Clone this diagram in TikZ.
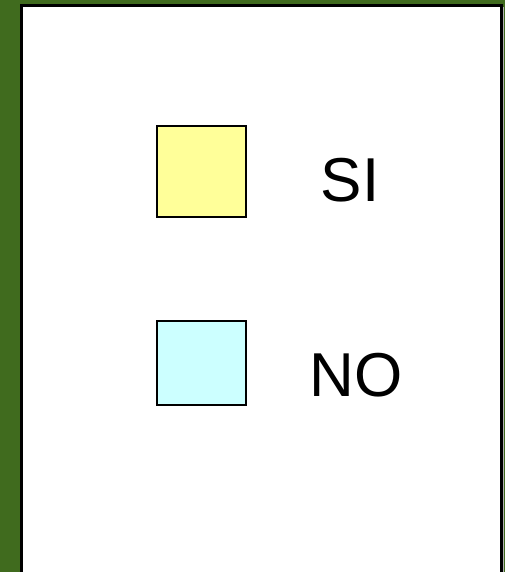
\documentclass[tikz,border=0pt]{standalone}
\usepackage{fontspec}
\setmainfont{Liberation Sans}
\definecolor{bggreen}{RGB}{64,107,30}
\definecolor{siyellow}{RGB}{255,255,153}
\definecolor{nocyan}{RGB}{204,255,255}
\begin{document}
\begin{tikzpicture}[x=1pt,y=-1pt,
  swatch/.style={draw=black,line width=2.5pt},
  lbl/.style={inner sep=0pt,font=\fontsize{62}{62}\selectfont}]
\useasboundingbox (0,0) rectangle (505,572);
\fill[bggreen] (0,0) rectangle (505,572);
\fill[gray!60] (23,7) rectangle (504,580);
\draw[line width=3pt,fill=white] (21.5,5.5) rectangle (501.5,580);
\draw[swatch,fill=siyellow] (157,126) rectangle (246,217);
\draw[swatch,fill=nocyan] (157,321) rectangle (246,405);
\node[lbl] (si) at (350,180) {SI};
\node[lbl] (no) at (356,375) {NO};
\end{tikzpicture}
\end{document}
